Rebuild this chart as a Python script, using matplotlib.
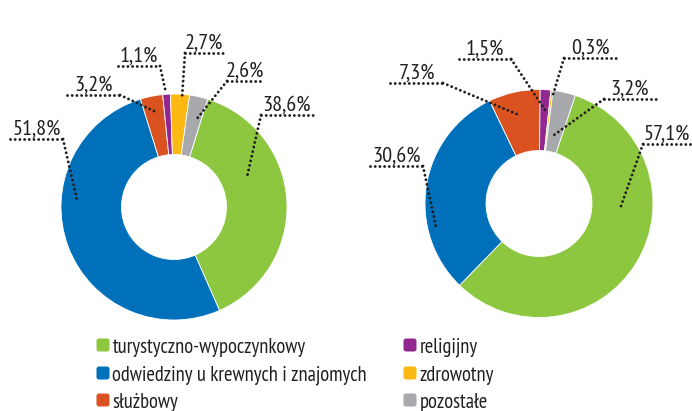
import matplotlib.pyplot as plt
from matplotlib.patches import FancyBboxPatch

plt.rcParams['font.family'] = ['PT Sans Narrow', 'Liberation Sans', 'DejaVu Sans']

categories = ['turystyczno-wypoczynkowy', 'odwiedziny u krewnych i znajomych', 'służbowy',
              'religijny', 'zdrowotny', 'pozostałe']
colors = ['#8DC63F', '#0070BA', '#DA521F', '#92278F', '#FDB913', '#A7A9AC']
left_values = [38.6, 51.8, 3.2, 1.1, 2.7, 2.6]
right_values = [57.1, 30.6, 7.3, 1.5, 0.3, 3.2]

W, H = 692, 411
TXT = '#231F20'

# label layout, pixel coords (y down): line x0, x1, y, join end, anchor point in wedge
left_layout = [(261, 313, 115, 'l', (247, 177)),
               (10, 63, 139, 'r', (77, 200)),
               (67, 120, 95, 'r', (154, 111)),
               (118, 160, 66, 'r', (166, 93)),
               (185, 223, 53, 'l', (182, 98)),
               (227, 263, 81, 'l', (196, 120))]
right_layout = [(643, 691, 144, 'l', (621, 206)),
                (370, 423, 166, 'r', (436, 227)),
                (390, 443, 83, 'r', (519, 115)),
                (459, 511, 59, 'r', (545, 110)),
                (564, 616, 58, 'l', (552, 98)),
                (604, 656, 99, 'l', (554, 135))]

fig = plt.figure(figsize=(W / 100, H / 100), dpi=100)
ax = fig.add_axes([0, 0, 1, 1])


def donut(values, center, radius, hole, start, layout):
    cx, cy = center
    ax.pie(values, colors=colors, startangle=start, counterclock=False,
           center=(cx, H - cy), radius=radius,
           wedgeprops=dict(width=radius - hole, edgecolor='white', linewidth=0.6))
    dots = dict(color='#231F20', lw=2.1, linestyle=(0, (0.01, 1.6)),
                dash_capstyle='round', solid_capstyle='round')
    for v, (x0, x1, y, end, (ax_, ay)) in zip(values, layout):
        ax.plot([x0, x1], [H - y, H - y], **dots)
        jx = x0 if end == 'l' else x1
        ax.plot([jx, ax_], [H - y, H - ay], **dots)
        ax.text((x0 + x1) / 2, H - y + 4.5, f'{v:.1f}%'.replace('.', ','),
                ha='center', va='baseline', fontsize=16, color=TXT)


donut(left_values, (174, 207), 113, 52.5, 72.7, left_layout)
donut(right_values, (539, 203.5), 114, 53, 71.4, right_layout)

# legend
legend_cols = [95, 402]
legend_rows = [345, 373, 400]
for i, (cat, col) in enumerate(zip(categories, colors)):
    x = legend_cols[i // 3]
    y = legend_rows[i % 3]
    ax.add_patch(FancyBboxPatch((x + 1.5, H - y - 6.5), 13, 13,
                                boxstyle='round,pad=0,rounding_size=2.5',
                                facecolor=col, edgecolor='none'))
    ax.text(x + 17.5, H - y, cat, ha='left', va='center_baseline',
            fontsize=14.8, color=TXT)

ax.set_xlim(0, W)
ax.set_ylim(0, H)
ax.set_aspect('auto')
ax.axis('off')

fig.savefig('out.png', dpi=100)
